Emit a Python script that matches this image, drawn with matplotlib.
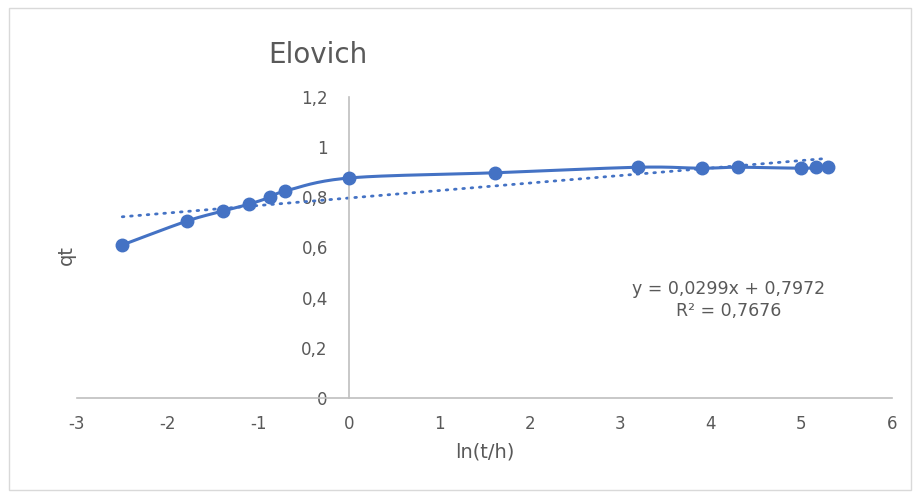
import numpy as np
import matplotlib.pyplot as plt
from matplotlib.patches import Rectangle

plt.rcParams['font.family'] = ['DejaVu Sans']
plt.rcParams['axes.unicode_minus'] = False

# data
ln_t = [-2.50, -1.79, -1.39, -1.10, -0.87, -0.70, 0.0, 1.62, 3.20, 3.90, 4.30, 5.00, 5.16, 5.29]
qt = [0.610, 0.705, 0.745, 0.773, 0.800, 0.825, 0.877, 0.898, 0.920, 0.916, 0.920, 0.916, 0.919, 0.919]
slope, intercept = 0.0299, 0.7972
eq_text = "y = 0,0299x + 0,7972\nR² = 0,7676"

blue = '#4472C4'
grey = '#595959'


def smooth(x, y, n=20):
    # catmull-rom style curve like excel "smoothed line"
    x = np.asarray(x, float)
    y = np.asarray(y, float)
    px = np.concatenate([[x[0]], x, [x[-1]]])
    py = np.concatenate([[y[0]], y, [y[-1]]])
    xs, ys = [], []
    t = np.linspace(0, 1, n)
    for i in range(1, len(px) - 2):
        p0, p1, p2, p3 = [np.array([px[j], py[j]]) for j in (i - 1, i, i + 1, i + 2)]
        c1 = p1 + (p2 - p0) / 6
        c2 = p2 - (p3 - p1) / 6
        b = ((1 - t) ** 3)[:, None] * p1 + (3 * (1 - t) ** 2 * t)[:, None] * c1 \
            + (3 * (1 - t) * t ** 2)[:, None] * c2 + (t ** 3)[:, None] * p2
        xs.extend(b[:, 0])
        ys.extend(b[:, 1])
    return xs, ys


fig = plt.figure(figsize=(9.2, 4.97), dpi=100)
fig.patches.append(Rectangle((9 / 920, 7 / 497), 902 / 920, 482 / 497, transform=fig.transFigure,
                             fill=False, edgecolor='#d9d9d9', linewidth=1))
ax = fig.add_axes([77 / 920, 99 / 497, 815 / 920, 301 / 497])

sx, sy = smooth(ln_t, qt)
ax.plot(sx, sy, color=blue, linewidth=2.2, zorder=3)
ax.plot(ln_t, qt, 'o', color=blue, markersize=9, zorder=4)

tx = np.array([ln_t[0], ln_t[-1]])
ax.plot(tx, slope * tx + intercept, color=blue, linewidth=2, linestyle=(0, (0.6, 2.4)),
        dash_capstyle='round', zorder=2)

ax.set_xlim(-3, 6)
ax.set_ylim(0, 1.2)
ax.set_xticks(range(-3, 7))
ax.set_yticks(np.arange(0, 1.21, 0.2))
ax.set_yticklabels(['0', '0,2', '0,4', '0,6', '0,8', '1', '1,2'])

for s in ['top', 'right']:
    ax.spines[s].set_visible(False)
ax.spines['left'].set_position(('data', 0))
ax.spines['left'].set_color('#bfbfbf')
ax.spines['bottom'].set_color('#bfbfbf')
ax.spines['left'].set_linewidth(1.2)
ax.spines['bottom'].set_linewidth(1.2)
ax.tick_params(axis='y', length=0, pad=15, labelsize=12, labelcolor=grey)
ax.tick_params(axis='x', length=0, pad=12, labelsize=12, labelcolor=grey)

ax.set_xlabel('ln(t/h)', fontsize=14, color=grey, labelpad=7)
fig.text(66 / 920, 1 - 255 / 497, 'qt', rotation=90, fontsize=14, color=grey, ha='center', va='center')
fig.text(318 / 920, 1 - 55 / 497, 'Elovich', fontsize=20, color=grey, ha='center', va='center')
ax.text(4.2, 0.39, eq_text, fontsize=12.5, color=grey, ha='center', va='center', linespacing=1.25)

fig.savefig('out.png', dpi=100)
